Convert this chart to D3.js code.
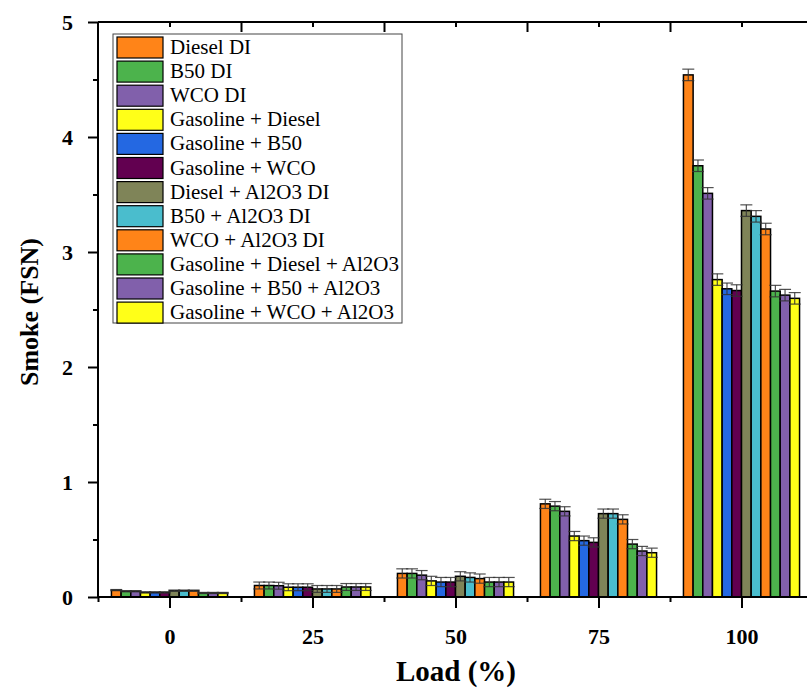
<!DOCTYPE html>
<html>
<head>
<meta charset="utf-8">
<script src="https://cdn.jsdelivr.net/npm/d3@7"></script>
<style>
  html, body { margin: 0; padding: 0; background: #fff; }
  svg { display: block; }
</style>
</head>
<body>
<svg id="chart" width="807" height="688"></svg>
<script>
// ---- data ----
const loads = [0, 25, 50, 75, 100];
const xTickLabels = ["0", "25", "50", "75", "100"];
const yTickLabels = ["0", "1", "2", "3", "4", "5"];
const seriesNames = [
  "Diesel DI", "B50 DI", "WCO DI", "Gasoline + Diesel", "Gasoline + B50",
  "Gasoline + WCO", "Diesel + Al2O3 DI", "B50 + Al2O3 DI", "WCO + Al2O3 DI",
  "Gasoline + Diesel + Al2O3", "Gasoline + B50 + Al2O3", "Gasoline + WCO + Al2O3"
];
const seriesColors = [
  "#FF8418", "#4CB34C", "#8160AB", "#FFFF18", "#2468E2", "#620050",
  "#7F8458", "#4ABDCD", "#FF8418", "#4CB34C", "#8160AB", "#FFFF18"
];
const dieselDI   = [0.060, 0.100, 0.205, 0.810, 4.540];
const b50DI      = [0.050, 0.100, 0.205, 0.790, 3.750];
const wcoDI      = [0.050, 0.098, 0.190, 0.745, 3.510];
const gasDiesel  = [0.040, 0.085, 0.140, 0.530, 2.760];
const gasB50     = [0.040, 0.085, 0.130, 0.490, 2.680];
const gasWCO     = [0.040, 0.085, 0.130, 0.475, 2.665];
const dieselAl   = [0.055, 0.070, 0.180, 0.725, 3.360];
const b50Al      = [0.055, 0.070, 0.170, 0.725, 3.310];
const wcoAl      = [0.055, 0.070, 0.160, 0.675, 3.200];
const gasDieselAl= [0.035, 0.087, 0.130, 0.460, 2.660];
const gasB50Al   = [0.035, 0.087, 0.130, 0.400, 2.625];
const gasWCOAl   = [0.035, 0.087, 0.130, 0.385, 2.597];
const errorByLoad = [0.005, 0.030, 0.040, 0.040, 0.050];
const seriesValues = [dieselDI, b50DI, wcoDI, gasDiesel, gasB50, gasWCO,
  dieselAl, b50Al, wcoAl, gasDieselAl, gasB50Al, gasWCOAl];

// ---- layout ----
const svg = d3.select("#chart");
const x = d3.scaleLinear().domain([-12.5, 112.5]).range([98, 813]);
const y = d3.scaleLinear().domain([0, 5]).range([597, 22]);
const groupHalf = 10.15; // in load units
const band = d3.scaleBand().domain(d3.range(seriesNames.length)).range([-groupHalf, groupHalf]).padding(0);

const serif = "'Liberation Serif', 'Times New Roman', serif";

// bars
const barData = [];
seriesValues.forEach((vals, si) => {
  vals.forEach((v, li) => barData.push({si, li, v, e: errorByLoad[li]}));
});
const bw = x(band.bandwidth()) - x(0);
svg.append("g").selectAll("rect").data(barData).join("rect")
  .attr("x", d => x(loads[d.li] + band(d.si)))
  .attr("y", d => y(d.v))
  .attr("width", bw)
  .attr("height", d => y(0) - y(d.v))
  .attr("fill", d => seriesColors[d.si])
  .attr("stroke", "#000")
  .attr("stroke-width", 1.5);

// error bars
const eg = svg.append("g").attr("stroke", "#333").attr("stroke-opacity", 0.85).attr("stroke-width", 1.2);
barData.forEach(d => {
  const cx = x(loads[d.li] + band(d.si)) + bw / 2;
  const cw = 6;
  eg.append("line").attr("x1", cx).attr("x2", cx).attr("y1", y(d.v + d.e)).attr("y2", y(d.v - d.e));
  eg.append("line").attr("x1", cx - cw).attr("x2", cx + cw).attr("y1", y(d.v + d.e)).attr("y2", y(d.v + d.e));
  eg.append("line").attr("x1", cx - cw).attr("x2", cx + cw).attr("y1", y(d.v - d.e)).attr("y2", y(d.v - d.e));
});

// axes
const axisG = svg.append("g").attr("font-family", serif);
// bottom
const bottomAx = axisG.append("g").attr("transform", `translate(0,${y(0)})`)
  .call(d3.axisBottom(x).tickValues(loads).tickFormat((d, i) => xTickLabels[i]).tickSize(11).tickPadding(20));
bottomAx.append("g").call(d3.axisBottom(x).tickValues([-12.5, 12.5, 37.5, 62.5, 87.5]).tickSize(5).tickFormat(""))
  .select(".domain").remove();
// top
const topAx = axisG.append("g").attr("transform", `translate(0,${y(5)})`)
  .call(d3.axisBottom(x).tickValues(loads).tickSize(5).tickFormat(""));
topAx.append("g").call(d3.axisBottom(x).tickValues([12.5, 37.5, 62.5, 87.5]).tickSize(10).tickFormat(""))
  .select(".domain").remove();
// left
const leftAx = axisG.append("g").attr("transform", `translate(${x(-12.5)},0)`)
  .call(d3.axisLeft(y).tickValues([0, 1, 2, 3, 4, 5]).tickFormat((d, i) => yTickLabels[i]).tickSize(10).tickPadding(15));
leftAx.append("g").call(d3.axisLeft(y).tickValues([0.5, 1.5, 2.5, 3.5, 4.5]).tickSize(5).tickFormat(""))
  .select(".domain").remove();

axisG.selectAll(".domain").attr("stroke", "#000").attr("stroke-width", 2);
axisG.selectAll(".tick line").attr("stroke", "#000").attr("stroke-width", 2);
axisG.selectAll(".tick text").attr("font-size", 22).attr("font-weight", "bold").attr("fill", "#000").attr("font-family", serif);
topAx.selectAll(".domain").attr("d", `M${x(-12.5)},0H${x(112.5)}`);
bottomAx.selectAll(".domain").attr("d", `M${x(-12.5)},0H${x(112.5)}`);
leftAx.selectAll(".domain").attr("d", `M0,${y(0)}V${y(5)}`);

// axis titles
svg.append("text").attr("x", 456).attr("y", 681).attr("text-anchor", "middle")
  .attr("font-family", serif).attr("font-weight", "bold").attr("font-size", 29).text("Load (%)");
svg.append("text").attr("transform", "translate(38,312) rotate(-90)").attr("text-anchor", "middle")
  .attr("font-family", serif).attr("font-weight", "bold").attr("font-size", 26).text("Smoke (FSN)");

// legend
const lg = svg.append("g");
lg.append("rect").attr("x", 113).attr("y", 34).attr("width", 289).attr("height", 289)
  .attr("fill", "#fff").attr("stroke", "#444").attr("stroke-width", 1);
const rowH = 24.1;
seriesNames.forEach((name, i) => {
  const yy = 37 + i * rowH;
  lg.append("rect").attr("x", 117).attr("y", yy).attr("width", 46).attr("height", 21)
    .attr("fill", seriesColors[i]).attr("stroke", "#000").attr("stroke-width", 1.2);
  lg.append("text").attr("x", 170).attr("y", yy + 17).attr("font-family", serif)
    .attr("font-size", 21).attr("fill", "#000").text(name);
});
</script>
</body>
</html>
